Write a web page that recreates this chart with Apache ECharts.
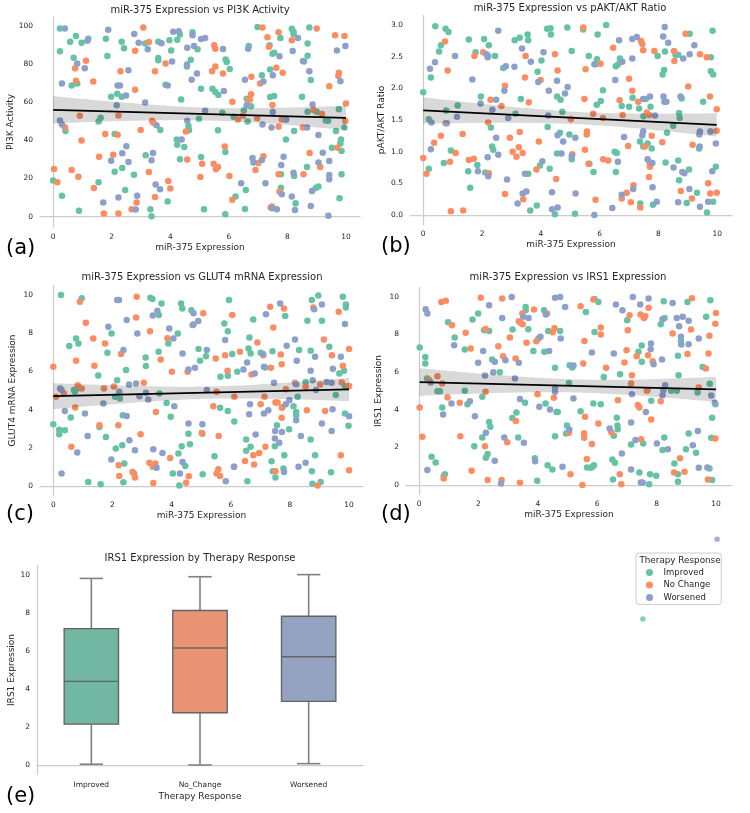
<!DOCTYPE html>
<html><head><meta charset="utf-8">
<script src="https://cdn.jsdelivr.net/npm/echarts@6/dist/echarts.min.js"></script>
<style>html,body{margin:0;padding:0;background:#fff}#c{width:750px;height:813px}</style>
</head><body><div id="c"></div>
<script>
const groups = ['Improved', 'No Change', 'Worsened'];
const boxCategories = ['Improved', 'No_Change', 'Worsened'];

// ---- Panel (a): miR-375 vs PI3K Activity ----
const pi3kImproved = [[0.0,19],[0.23,99],[0.23,87],[0.3,11],[0.42,45],[0.58,92],[0.63,69],[0.7,83.5],[0.78,95],[0.82,70],[0.88,3],[0.97,91.5],[1.2,93.5],[1.55,50],[1.55,18],[1.62,52],[1.8,93.5],[1.85,84.5],[1.98,63],[2.1,23.6],[2.1,43.5],[2.19,64.6],[2.34,63],[2.34,92],[2.36,25.6],[2.42,88.5],[2.46,14],[2.76,22],[3.14,91],[3.16,32.2],[3.32,3.9],[3.36,0.2],[3.59,92],[3.59,82.3],[3.59,83.4],[3.66,45.5],[3.84,69.4],[3.91,7.9],[3.97,92.8],[4.03,87.4],[4.22,40.6],[4.24,37.8],[4.24,93],[4.33,95.8],[4.33,30.1],[4.37,61.6],[4.48,36.6],[4.57,79],[4.62,47.6],[4.64,45.4],[4.7,82.5],[4.76,97],[4.93,88],[4.98,51.5],[5.05,67.2],[5.05,31.3],[5.15,3.9],[5.44,67.2],[5.54,65.5],[5.63,45.4],[5.64,64],[5.78,54.6],[5.88,34],[5.89,82.6],[5.93,81.3],[5.88,1.2],[6.03,77.6],[6.16,52.5],[6.23,10.5],[6.51,55.9],[6.55,4],[6.58,14],[6.61,62],[6.64,50],[6.68,89.7],[6.76,58],[6.98,99.8],[7.13,74.4],[7.41,62.9],[7.39,90.2],[7.41,77.4],[7.49,85.6],[7.55,63.4],[7.55,86.2],[7.76,94],[7.78,22.2],[7.78,15.2],[7.95,40.6],[7.94,51.1],[8.15,98.8],[8.21,97.2],[8.21,96.1],[8.23,21.4],[8.28,7],[8.23,45],[8.5,63],[8.57,81.6],[8.67,26.1],[8.69,55.2],[8.69,84.6],[8.69,91],[8.75,99.5],[8.8,71.8],[8.97,15],[9.0,55.2],[9.06,15.8],[9.31,50.6],[9.39,50.4],[9.52,36.2],[9.66,45],[9.76,56.4],[9.78,9.6],[9.81,38.5],[9.83,40.6],[9.85,34.5],[9.85,22.2],[9.95,46.8]];
const pi3kNoChange = [[0.03,25],[0.14,18],[0.4,47],[0.63,24.5],[0.75,78],[0.78,71.5],[0.86,21],[0.91,53],[0.97,40],[1.12,82],[1.37,71],[1.39,15],[1.57,31.5],[1.73,1.6],[1.78,43.5],[2.05,32.5],[2.2,43],[2.23,53.2],[2.23,1.6],[2.3,76.4],[2.68,3.9],[2.8,87.2],[2.8,66.7],[2.85,7.4],[2.99,45.5],[3.08,99.5],[3.27,91.8],[3.27,23.5],[3.38,50.4],[3.42,49.4],[3.48,10.3],[3.48,76.4],[3.84,80.5],[3.93,18.7],[4.0,14.7],[4.53,44.7],[4.58,30],[5.03,20.8],[5.09,27.8],[5.43,76.4],[5.48,27.8],[5.5,90.2],[5.54,88.3],[5.54,79],[5.56,24.9],[5.63,26.1],[5.8,75.3],[5.86,36.8],[6.02,21.4],[6.12,60.4],[6.12,8.9],[6.31,51.1],[6.48,53],[6.67,61.3],[6.72,61.6],[6.77,73.5],[6.76,64.4],[6.91,24.5],[6.97,51.7],[7.01,28.2],[7.07,70],[7.15,99.5],[7.18,31.7],[7.32,94.4],[7.37,89.3],[7.43,4.7],[7.47,5.3],[7.49,58.7],[7.62,78.3],[7.7,97],[7.7,47.3],[7.7,22.2],[7.73,13.1],[7.81,51.1],[7.84,75.7],[8.15,92.8],[8.53,46.9],[8.55,22.2],[8.76,33.5],[8.89,56],[9.0,99],[9.12,26.1],[9.18,54],[9.43,68.6],[9.63,95.4],[9.71,36.2],[9.74,73.9],[9.76,75.7],[9.95,95],[10.0,59.5],[9.98,50.3]];
const pi3kWorsened = [[0.23,50.6],[0.3,48.5],[0.3,70],[0.4,99],[0.82,80.5],[1.08,78],[1.17,92.5],[1.71,7.4],[1.88,98.3],[1.98,29.3],[2.17,58.5],[2.2,69],[2.23,10],[2.28,69],[2.36,33.3],[2.49,63.7],[2.5,37],[2.57,28.7],[2.57,77],[2.77,96],[2.82,3.7],[2.87,10.9],[2.92,91.4],[3.14,60],[3.23,88],[3.36,29.6],[3.41,33.4],[3.5,16.8],[3.53,48],[3.65,14.4],[3.7,91.2],[3.91,69],[4.06,81.6],[4.1,97.2],[4.29,97.5],[4.39,40.6],[4.57,80],[4.58,88.8],[4.58,50.4],[4.73,72],[4.76,95.4],[4.81,89.7],[4.91,75.3],[5.05,93.4],[5.19,94],[5.19,55.7],[5.8,88.2],[5.83,66],[6.42,17.5],[6.55,72],[6.61,58.5],[6.66,88.3],[6.81,30.8],[6.84,28.4],[7.13,29.8],[7.15,48.5],[7.18,71],[7.25,17.5],[7.46,46.8],[7.48,4.4],[7.5,74.4],[7.5,55],[7.64,3.9],[7.73,84.3],[7.79,27.1],[7.81,11.7],[7.87,31.5],[7.96,51.1],[8.15,10.5],[8.18,87.1],[8.21,23.1],[8.26,3.5],[8.36,94],[8.53,81.8],[8.67,46.8],[8.75,76.4],[8.8,5.6],[8.84,13.5],[8.86,59],[9.06,42.9],[9.06,28.4],[9.21,33.6],[9.4,0.4],[9.43,29.2],[9.43,21.9],[9.43,19.6],[9.69,87.4],[9.81,71.2],[9.98,89.7]];

// ---- Panel (b): miR-375 vs pAKT/AKT Ratio ----
const paktImproved = [[0.0,1.94],[0.19,1.51],[0.19,0.73],[0.26,2.17],[0.41,2.98],[0.54,2.58],[0.6,2.68],[0.7,0.82],[0.76,2.94],[0.78,1.65],[0.86,2.89],[0.94,1.02],[1.17,1.73],[1.55,2.77],[1.53,0.69],[1.6,0.43],[1.78,2.57],[1.84,0.79],[1.96,1.87],[2.07,2.78],[2.11,0.67],[2.21,2.51],[2.23,2.68],[2.3,1.38],[2.34,1.08],[2.38,1.03],[2.44,2.51],[2.72,2.32],[3.11,2.76],[3.14,1.6],[3.28,2.8],[3.32,1.83],[3.55,2.85],[3.57,2.76],[3.57,0.65],[3.64,0.07],[3.86,0.15],[3.89,2.26],[3.97,0.78],[4.02,2.44],[4.21,2.94],[4.23,1.39],[4.3,0.73],[4.33,2.95],[4.34,2.85],[4.48,0.01],[4.55,1.87],[4.55,0.97],[4.65,1.3],[4.67,1.82],[4.73,1.63],[4.9,2.96],[4.97,1.27],[5.05,2.59],[5.05,0.88],[5.16,0.02],[5.44,2.93],[5.63,2.51],[5.65,0.81],[5.79,0.68],[5.86,2.38],[5.91,2.46],[5.9,1.74],[5.93,2.85],[6.04,1.8],[6.11,1.97],[6.22,3.0],[6.51,1.0],[6.55,0.68],[6.58,0.98],[6.55,2.35],[6.63,2.38],[6.69,2.47],[6.75,1.72],[7.0,1.71],[7.12,1.85],[7.34,1.68],[7.37,1.16],[7.38,0.18],[7.48,1.08],[7.49,1.56],[7.57,1.83],[7.63,1.13],[7.73,1.71],[7.77,1.05],[7.81,0.16],[7.97,2.51],[8.14,2.22],[8.19,2.29],[8.22,2.58],[8.24,0.83],[8.29,1.3],[8.5,1.41],[8.58,2.53],[8.67,2.53],[8.67,0.86],[8.7,1.61],[8.7,0.55],[8.72,1.53],[8.79,1.84],[8.96,0.19],[9.06,2.86],[9.04,0.72],[9.31,0.35],[9.38,1.05],[9.52,1.79],[9.65,0.04],[9.78,2.49],[9.78,2.27],[9.77,1.32],[9.84,2.91],[9.86,2.22],[9.86,0.21],[9.95,0.76]];
const paktNoChange = [[0.0,0.9],[0.11,0.65],[0.37,1.14],[0.6,1.25],[0.74,2.74],[0.76,1.45],[0.83,2.28],[0.91,0.84],[0.94,0.06],[1.1,0.98],[1.34,1.28],[1.36,0.07],[1.55,0.87],[1.72,0.89],[1.74,2.51],[2.04,2.57],[2.21,1.46],[2.23,0.66],[2.29,1.82],[2.66,1.72],[2.78,0.33],[2.78,2.04],[2.95,1.22],[3.04,1.0],[3.17,0.92],[3.25,1.07],[3.28,1.31],[3.38,0.98],[3.4,0.25],[3.46,2.17],[3.48,2.51],[3.59,1.78],[3.85,0.72],[3.99,2.13],[3.93,1.16],[4.48,2.54],[4.52,0.57],[4.57,2.28],[5.02,1.51],[5.07,0.96],[5.44,2.96],[5.48,1.83],[5.5,1.03],[5.52,2.3],[5.56,1.27],[5.57,1.32],[5.62,0.81],[5.78,1.6],[5.86,0.24],[6.03,2.39],[6.11,1.53],[6.12,0.88],[6.29,0.86],[6.46,2.64],[6.68,1.81],[6.75,0.26],[6.78,1.58],[6.92,0.35],[6.97,1.09],[7.0,2.15],[7.06,0.2],[7.11,1.96],[7.15,0.47],[7.31,1.79],[7.38,0.12],[7.4,2.75],[7.45,2.7],[7.48,2.6],[7.54,1.08],[7.6,1.62],[7.7,0.83],[7.71,0.76],[7.68,0.6],[7.69,1.58],[7.77,1.25],[7.86,2.59],[8.13,1.15],[8.53,2.59],[8.54,2.43],[8.76,0.38],[8.92,2.86],[9.01,2.03],[9.14,0.26],[9.16,1.11],[9.41,2.54],[9.64,2.49],[9.69,0.5],[9.75,1.87],[9.76,0.34],[9.98,1.67],[9.98,1.33],[9.98,0.35]];
const paktWorsened = [[0.23,2.31],[0.26,1.04],[0.28,1.46],[0.4,2.41],[0.8,1.45],[1.08,2.51],[1.15,1.55],[1.67,2.14],[1.86,0.69],[1.95,1.76],[2.15,2.54],[2.19,2.49],[2.19,0.91],[2.21,0.61],[2.35,1.66],[2.48,1.82],[2.48,1.22],[2.55,2.91],[2.55,0.95],[2.76,1.96],[2.81,2.35],[2.85,0.56],[2.89,1.53],[3.1,2.34],[3.21,0.18],[3.36,2.63],[3.38,0.34],[3.46,0.65],[3.51,0.37],[3.66,2.42],[3.91,2.1],[4.05,0.85],[4.09,2.57],[4.25,1.57],[4.27,1.96],[4.38,0.36],[4.38,0.09],[4.55,2.12],[4.57,0.12],[4.57,1.26],[4.7,0.97],[4.76,1.16],[4.82,1.92],[4.91,2.02],[5.05,0.93],[5.17,1.22],[5.18,0.34],[5.82,0.0],[5.82,2.38],[6.43,0.11],[6.53,2.13],[6.62,0.84],[6.66,2.76],[6.75,0.32],[6.77,2.42],[6.83,1.23],[7.11,2.47],[7.11,2.78],[7.14,0.41],[7.26,2.81],[7.45,1.26],[7.48,1.32],[7.48,1.83],[7.63,0.88],[7.71,1.87],[7.79,0.82],[7.8,0.44],[7.94,0.21],[7.88,1.57],[8.16,2.82],[8.21,2.97],[8.17,1.87],[8.2,1.79],[8.27,1.79],[8.33,2.72],[8.51,0.75],[8.67,0.2],[8.75,1.87],[8.81,0.68],[8.84,2.47],[8.88,0.66],[9.05,0.41],[9.06,2.54],[9.22,2.68],[9.4,1.08],[9.39,1.27],[9.41,1.32],[9.41,0.13],[9.69,0.21],[9.77,1.32],[9.83,0.69],[9.95,1.13]];

// ---- Panel (c): miR-375 vs GLUT4 mRNA Expression ----
const glut4Improved = [[0.0,3.23],[0.2,2.95],[0.2,2.71],[0.26,10.0],[0.39,2.92],[0.54,7.33],[0.59,3.58],[0.7,5.02],[0.73,4.93],[0.77,7.73],[0.81,5.1],[0.85,7.46],[0.96,9.83],[1.18,0.21],[1.52,5.79],[1.56,3.09],[1.6,0.09],[1.78,2.57],[1.83,6.98],[1.97,7.99],[2.09,4.67],[2.11,1.96],[2.16,5.54],[2.25,4.58],[2.33,2.13],[2.35,3.71],[2.37,0.19],[2.4,1.17],[2.46,6.07],[2.73,0.65],[3.12,6.73],[3.13,6.28],[3.28,9.86],[3.35,9.79],[3.56,7.03],[3.57,8.95],[3.59,4.84],[3.66,9.56],[3.83,4.35],[3.89,7.46],[3.97,3.62],[4.04,0.65],[4.21,7.99],[4.23,1.7],[4.26,0.03],[4.32,9.56],[4.34,2.08],[4.36,9.3],[4.46,1.05],[4.57,2.74],[4.62,2.19],[4.67,9.21],[4.74,8.46],[4.91,7.17],[4.96,6.56],[5.04,2.74],[5.05,0.61],[5.16,6.8],[5.45,1.56],[5.64,4.09],[5.65,5.72],[5.78,8.51],[5.9,8.11],[5.9,5.77],[5.9,3.92],[5.94,9.74],[6.05,6.91],[6.12,3.37],[6.22,5.98],[6.52,2.43],[6.52,1.84],[6.56,0.24],[6.6,7.2],[6.63,7.78],[6.67,6.94],[6.67,2.05],[6.76,8.72],[7.01,6.98],[7.16,6.21],[7.41,7.06],[7.38,1.29],[7.42,0.77],[7.49,2.08],[7.51,0.44],[7.56,3.18],[7.78,0.91],[7.81,1.61],[7.84,8.9],[7.97,2.97],[8.12,4.18],[8.21,3.88],[8.21,3.71],[8.26,4.67],[8.31,7.12],[8.53,5.45],[8.59,8.65],[8.7,2.43],[8.7,7.08],[8.74,9.74],[8.74,0.77],[8.76,0.12],[8.85,1.61],[8.96,9.97],[9.04,0.21],[9.08,8.65],[9.33,7.29],[9.39,0.72],[9.55,4.76],[9.67,5.89],[9.79,9.91],[9.83,6.03],[9.89,9.51],[9.89,9.35],[9.86,5.23],[9.86,3.79],[9.98,3.16]];
const glut4NoChange = [[0.0,6.24],[0.09,4.67],[0.36,4.84],[0.61,2.05],[0.74,4.11],[0.77,6.56],[0.83,5.28],[0.9,9.65],[0.96,5.1],[1.1,8.55],[1.35,7.73],[1.39,6.29],[1.56,3.18],[1.71,5.1],[1.75,7.46],[2.05,5.21],[2.2,3.18],[2.21,1.08],[2.23,0.52],[2.29,6.91],[2.68,0.73],[2.76,0.44],[2.8,8.83],[2.82,9.91],[2.95,2.71],[3.06,5.4],[3.25,1.22],[3.27,8.11],[3.36,1.0],[3.38,0.16],[3.45,1.17],[3.47,3.88],[3.63,6.63],[3.86,7.74],[3.95,1.47],[4.01,5.98],[4.49,0.17],[4.54,5.98],[4.58,0.51],[5.02,2.78],[5.07,9.04],[5.41,4.18],[5.49,6.68],[5.52,4.93],[5.52,0.65],[5.58,0.87],[5.59,2.62],[5.64,0.52],[5.81,6.85],[5.89,6.03],[6.05,8.95],[6.11,1.0],[6.12,4.67],[6.31,7.03],[6.48,1.31],[6.7,5.84],[6.76,1.61],[6.79,1.12],[6.9,7.52],[6.96,1.73],[7.01,4.28],[7.1,6.85],[7.14,4.67],[7.17,2.05],[7.33,9.39],[7.36,6.19],[7.44,8.3],[7.51,4.37],[7.51,0.77],[7.58,4.37],[7.69,6.89],[7.72,6.38],[7.72,3.57],[7.73,4.09],[7.75,4.14],[7.8,9.3],[7.86,5.07],[8.17,5.4],[8.53,5.19],[8.57,3.97],[8.79,9.35],[8.94,0.03],[9.02,5.31],[9.15,7.67],[9.19,3.93],[9.42,6.85],[9.65,9.13],[9.72,1.61],[9.75,5.42],[9.79,6.29],[10.0,5.23],[10.0,7.17],[10.0,0.82]];
const glut4Worsened = [[0.23,5.1],[0.28,5.02],[0.28,0.65],[0.39,3.93],[0.81,1.75],[1.07,3.79],[1.16,2.62],[1.69,4.32],[1.86,8.34],[1.96,1.38],[2.16,9.74],[2.22,9.74],[2.23,4.93],[2.37,7.12],[2.48,3.67],[2.48,8.69],[2.56,5.31],[2.57,2.4],[2.76,1.87],[2.8,5.37],[2.84,7.99],[2.91,4.7],[3.13,4.88],[3.21,4.53],[3.36,8.93],[3.38,1.92],[3.49,0.96],[3.52,9.18],[3.69,1.73],[3.92,8.25],[4.06,7.73],[4.09,4.18],[4.28,0.65],[4.37,6.94],[4.37,1.26],[4.57,6.1],[4.57,3.27],[4.71,8.43],[4.74,9.04],[4.79,6.19],[4.9,8.64],[5.04,3.23],[5.19,7.12],[5.19,5.02],[5.81,7.64],[5.83,0.24],[6.11,1.01],[6.43,6.1],[6.55,6.47],[6.62,3.76],[6.65,4.28],[6.81,5.89],[6.84,2.69],[7.09,6.91],[7.12,3.79],[7.12,6.24],[7.19,8.99],[7.27,3.97],[7.46,5.4],[7.49,2.48],[7.5,2.88],[7.64,2.26],[7.67,9.56],[7.73,2.83],[7.8,0.73],[7.86,4.28],[7.89,7.34],[7.98,4.49],[8.17,7.67],[8.21,3.44],[8.21,5.33],[8.23,6.56],[8.29,1.0],[8.37,2.62],[8.53,1.21],[8.7,6.03],[8.77,5.54],[8.82,9.25],[8.85,6.77],[8.88,5.02],[9.08,3.27],[9.08,9.51],[9.24,5.45],[9.41,5.4],[9.41,2.88],[9.44,4.02],[9.45,6.14],[9.72,6.77],[9.86,8.48],[10.0,3.65]];

// ---- Panel (d): miR-375 vs IRS1 Expression ----
const irs1Improved = [[0.02,7.31],[0.21,6.81],[0.21,6.46],[0.27,5.66],[0.42,1.5],[0.56,1.2],[0.62,4.99],[0.7,4.99],[0.78,4.12],[0.87,0.58],[0.83,0.48],[0.98,8.65],[1.2,7.84],[1.54,5.01],[1.54,7.2],[1.63,4.3],[1.8,8.8],[1.86,2.07],[1.99,9.12],[2.13,4.69],[2.13,2.53],[2.19,8.23],[2.25,1.45],[2.31,1.65],[2.36,8.19],[2.36,3.35],[2.4,3.1],[2.46,6.67],[2.72,6.0],[3.14,3.56],[3.15,8.27],[3.28,3.86],[3.34,2.53],[3.57,4.37],[3.59,9.47],[3.59,9.29],[3.68,8.28],[3.85,7.13],[3.9,1.42],[3.98,0.23],[4.02,7.79],[4.21,9.29],[4.22,7.08],[4.26,4.34],[4.33,1.06],[4.35,8.19],[4.49,0.83],[4.58,6.23],[4.58,2.6],[4.63,3.89],[4.67,3.89],[4.75,8.19],[4.95,2.74],[4.98,3.17],[5.05,5.43],[5.07,6.37],[5.16,6.25],[5.44,3.93],[5.62,9.2],[5.66,0.94],[5.79,0.92],[5.84,0.97],[5.89,1.06],[5.91,9.89],[5.87,4.34],[5.91,8.14],[6.04,9.73],[6.12,4.3],[6.22,5.75],[6.51,1.36],[6.53,0.3],[6.56,2.62],[6.6,1.19],[6.66,3.58],[6.68,3.17],[6.69,2.97],[6.77,5.89],[7.01,8.76],[7.14,2.16],[7.39,7.08],[7.42,0.67],[7.5,7.42],[7.5,6.55],[7.55,2.21],[7.69,5.04],[7.75,0.05],[7.78,0.58],[7.82,4.48],[7.99,0.5],[8.14,8.55],[8.2,1.86],[8.24,9.77],[8.27,8.88],[8.26,2.53],[8.49,5.01],[8.6,1.15],[8.68,5.01],[8.72,6.87],[8.72,0.58],[8.74,5.84],[8.72,0.18],[8.82,7.66],[8.99,1.91],[9.04,9.73],[9.08,2.74],[9.33,1.72],[9.38,4.92],[9.55,6.28],[9.67,8.94],[9.78,0.88],[9.81,9.82],[9.79,5.38],[9.84,2.51],[9.87,3.58],[9.87,0.27],[9.98,4.3]];
const irs1NoChange = [[0.02,4.12],[0.11,2.57],[0.34,5.58],[0.62,5.79],[0.75,9.73],[0.78,5.4],[0.83,0.35],[0.9,9.79],[0.96,4.65],[1.11,8.5],[1.37,4.37],[1.39,2.6],[1.57,8.09],[1.74,7.26],[1.77,0.76],[2.08,9.96],[2.24,4.96],[2.24,8.3],[2.22,2.07],[2.31,0.27],[2.67,7.38],[2.78,0.27],[2.8,9.91],[2.83,6.85],[2.97,2.28],[3.06,7.84],[3.25,6.73],[3.26,3.4],[3.36,8.71],[3.4,0.12],[3.43,8.62],[3.48,9.12],[3.49,8.55],[3.62,7.56],[3.87,9.33],[3.95,7.65],[3.99,4.83],[4.31,9.12],[4.5,8.12],[4.56,8.34],[4.54,4.64],[5.05,2.78],[5.1,0.58],[5.44,9.5],[5.5,0.0],[5.53,6.46],[5.56,2.76],[5.56,2.51],[5.57,7.66],[5.59,3.63],[5.65,1.38],[5.82,2.18],[5.87,9.86],[6.04,3.27],[6.12,8.37],[6.12,8.0],[6.3,6.23],[6.48,2.8],[6.7,4.51],[6.76,0.57],[6.81,0.05],[6.92,6.51],[6.99,7.17],[7.03,8.23],[7.09,9.03],[7.17,5.84],[7.14,5.4],[7.33,6.85],[7.37,4.25],[7.42,4.12],[7.46,9.06],[7.48,2.44],[7.57,8.88],[7.62,8.97],[7.67,5.01],[7.71,6.9],[7.73,9.43],[7.82,3.49],[7.87,6.58],[8.14,4.46],[8.54,8.05],[8.59,0.67],[8.79,1.42],[8.94,0.71],[9.04,6.96],[9.16,8.27],[9.19,9.93],[9.42,5.19],[9.66,6.19],[9.73,0.3],[9.75,6.99],[9.78,7.93],[9.98,8.58],[10.0,9.15],[9.98,2.48]];
const irs1Worsened = [[0.22,9.35],[0.28,9.12],[0.28,0.8],[0.39,5.45],[0.81,3.75],[1.09,4.34],[1.18,7.43],[1.71,4.46],[1.88,3.66],[1.99,6.5],[2.16,7.13],[2.22,5.82],[2.25,2.78],[2.36,9.56],[2.5,6.0],[2.55,6.55],[2.55,1.29],[2.76,0.09],[2.8,8.88],[2.87,2.53],[2.91,6.64],[3.12,10.0],[3.23,5.66],[3.36,6.5],[3.4,4.57],[3.51,8.94],[3.53,2.25],[3.69,8.88],[3.91,1.27],[4.05,4.16],[4.09,7.88],[4.27,9.06],[4.38,7.13],[4.41,4.02],[4.58,5.19],[4.58,4.96],[4.58,9.95],[4.75,10.0],[4.77,7.79],[4.83,0.97],[4.92,9.47],[5.06,2.96],[5.2,6.35],[5.2,4.6],[5.82,7.04],[6.42,3.01],[6.56,6.99],[6.63,9.59],[6.83,1.68],[6.85,9.29],[7.14,3.33],[7.14,0.83],[7.17,4.83],[7.2,10.0],[7.29,2.39],[7.45,9.59],[7.47,0.14],[7.53,0.14],[7.64,3.89],[7.73,9.91],[7.8,7.22],[7.81,7.52],[7.9,6.42],[8.01,2.21],[8.18,6.67],[8.2,8.81],[8.2,4.78],[8.23,5.04],[8.29,5.31],[8.38,1.91],[8.54,9.68],[8.68,8.88],[8.76,8.44],[8.82,7.88],[8.83,7.47],[8.88,8.94],[9.08,8.73],[9.08,7.49],[9.22,2.12],[9.39,2.88],[9.42,7.79],[9.42,0.92],[9.71,0.94],[9.84,4.76],[9.96,4.37]];

// ---- Panel (e): IRS1 box statistics [low whisker, Q1, median, Q3, high whisker] ----
const irs1BoxStats = [[0.04, 2.15, 4.4, 7.18, 9.82], [0.0, 2.75, 6.16, 8.13, 9.91], [0.07, 3.35, 5.7, 7.83, 10.02]];

// ---- stray points drawn on the empty sixth axes (axis fraction units) ----
const strayImproved = [[0.694, 0.659]];
const strayNoChange = [[0.8, 0.797]];
const strayWorsened = [[0.906, 0.934]];

const colors = ['#66c2a5', '#fc8d62', '#8da0cb'];
const boxColors = ['#71b7a1', '#e99575', '#95a3c3'];
const FONT = 'DejaVu Sans';
const TXT = '#262626';

const panels = [
  {title: 'miR-375 Expression vs PI3K Activity', yName: 'PI3K Activity', sets: [pi3kImproved, pi3kNoChange, pi3kWorsened],
   grid: {left: 40, top: 17, width: 320, height: 210}, x: [-0.45, 10.48], y: [-5.5, 105], dec: 0, yGap: 24.5,
   titlePos: [200, 10], letter: '(a)', letterPos: [6, 249]},
  {title: 'miR-375 Expression vs pAKT/AKT Ratio', yName: 'pAKT/AKT Ratio', sets: [paktImproved, paktNoChange, paktWorsened],
   grid: {left: 410, top: 15.5, width: 322, height: 209}, x: [-0.45, 10.5], y: [-0.15, 3.15], dec: 1, yGap: 23.5,
   titlePos: [570, 8], letter: '(b)', letterPos: [381, 247]},
  {title: 'miR-375 Expression vs GLUT4 mRNA Expression', yName: 'GLUT4 mRNA Expression', sets: [glut4Improved, glut4NoChange, glut4Worsened],
   grid: {left: 40, top: 285.5, width: 323, height: 210}, x: [-0.45, 10.47], y: [-0.5, 10.5], dec: 0, yGap: 22.5,
   titlePos: [202, 277], letter: '(c)', letterPos: [6, 515]},
  {title: 'miR-375 Expression vs IRS1 Expression', yName: 'IRS1 Expression', sets: [irs1Improved, irs1NoChange, irs1Worsened],
   grid: {left: 406, top: 287.5, width: 326, height: 207}, x: [-0.44, 10.54], y: [-0.5, 10.5], dec: 0, yGap: 22.5,
   titlePos: [568, 277], letter: '(d)', letterPos: [381, 515]}
];

function regression(sets) {
  const pts = [].concat(...sets);
  const n = pts.length;
  let sx = 0, sy = 0;
  pts.forEach(p => { sx += p[0]; sy += p[1]; });
  const mx = sx / n, my = sy / n;
  let sxx = 0, sxy = 0;
  pts.forEach(p => { sxx += (p[0] - mx) ** 2; sxy += (p[0] - mx) * (p[1] - my); });
  const b = sxy / sxx, a = my - b * mx;
  let sse = 0;
  pts.forEach(p => { sse += (p[1] - a - b * p[0]) ** 2; });
  const s = Math.sqrt(sse / (n - 2));
  const xmin = Math.min(...pts.map(p => p[0])), xmax = Math.max(...pts.map(p => p[0]));
  const band = [];
  for (let i = 0; i <= 60; i++) {
    const x = xmin + (xmax - xmin) * i / 60;
    const yh = a + b * x;
    const se = s * Math.sqrt(1 / n + (x - mx) ** 2 / sxx);
    band.push([x, yh - 1.97 * se, yh + 1.97 * se]);
  }
  return {line: [[xmin, a + b * xmin], [xmax, a + b * xmax]], band};
}

const axisLineStyle = {lineStyle: {color: '#cccccc', width: 1.25}};
const grids = [], xAxes = [], yAxes = [], series = [], graphics = [];

panels.forEach((p, gi) => {
  grids.push(Object.assign({containLabel: false}, p.grid));
  xAxes.push({type: 'value', gridIndex: gi, min: p.x[0], max: p.x[1], splitNumber: 5,
    name: 'miR-375 Expression', nameLocation: 'middle', nameGap: 16,
    nameTextStyle: {fontSize: 9, color: TXT, fontFamily: FONT},
    axisLine: axisLineStyle, axisTick: {show: false}, splitLine: {show: false},
    axisLabel: {fontSize: 7.5, color: TXT, fontFamily: FONT, margin: 6, showMinLabel: false, showMaxLabel: false,
      formatter: v => String(Math.round(v))}});
  yAxes.push({type: 'value', gridIndex: gi, min: p.y[0], max: p.y[1], splitNumber: 5,
    name: p.yName, nameLocation: 'middle', nameGap: p.yGap,
    nameTextStyle: {fontSize: 9, color: TXT, fontFamily: FONT},
    axisLine: Object.assign({show: true}, axisLineStyle), axisTick: {show: false}, splitLine: {show: false},
    axisLabel: {fontSize: 7.5, color: TXT, fontFamily: FONT, margin: 7, showMinLabel: false, showMaxLabel: false,
      formatter: v => p.dec ? v.toFixed(p.dec) : String(Math.round(v))}});
  p.sets.forEach((d, k) => {
    series.push({type: 'scatter', name: groups[k], xAxisIndex: gi, yAxisIndex: gi, data: d,
      symbolSize: 6.5, z: 2, itemStyle: {color: colors[k], opacity: 1}, emphasis: {disabled: true}});
  });
  const reg = regression(p.sets);
  series.push({type: 'custom', xAxisIndex: gi, yAxisIndex: gi, z: 3, silent: true, clip: true,
    data: [[reg.band[0][0], reg.band[0][1]]],
    renderItem: (params, api) => {
      const pts = reg.band.map(b => api.coord([b[0], b[2]]));
      for (let i = reg.band.length - 1; i >= 0; i--) pts.push(api.coord([reg.band[i][0], reg.band[i][1]]));
      return {type: 'polygon', shape: {points: pts}, style: {fill: 'rgba(0,0,0,0.15)'}};
    }});
  series.push({type: 'line', xAxisIndex: gi, yAxisIndex: gi, z: 4, data: reg.line, symbol: 'none', silent: true,
    lineStyle: {color: '#000', width: 1.7}});
  graphics.push({type: 'text', x: p.titlePos[0], y: p.titlePos[1], z: 100,
    style: {text: p.title, fontSize: 10, fontFamily: FONT, fill: TXT, align: 'center', verticalAlign: 'middle'}});
  graphics.push({type: 'text', x: p.letterPos[0], y: p.letterPos[1], z: 100,
    style: {text: p.letter, fontSize: 21, fontFamily: FONT, fill: '#000', align: 'left', verticalAlign: 'middle'}});
});

// ---- panel (e) box plot ----
const ge = panels.length;
grids.push({left: 37, top: 565.5, width: 326, height: 209});
xAxes.push({type: 'category', gridIndex: ge, data: boxCategories, name: 'Therapy Response', nameLocation: 'middle', nameGap: 18,
  nameTextStyle: {fontSize: 9, color: TXT, fontFamily: FONT},
  axisLine: axisLineStyle, axisTick: {show: false}, splitLine: {show: false},
  axisLabel: {fontSize: 7.5, color: TXT, fontFamily: FONT, margin: 7}});
yAxes.push({type: 'value', gridIndex: ge, min: -0.5, max: 10.5, splitNumber: 5,
  name: 'IRS1 Expression', nameLocation: 'middle', nameGap: 20.5,
  nameTextStyle: {fontSize: 9, color: TXT, fontFamily: FONT},
  axisLine: Object.assign({show: true}, axisLineStyle), axisTick: {show: false}, splitLine: {show: false},
  axisLabel: {fontSize: 7.5, color: TXT, fontFamily: FONT, margin: 7, showMinLabel: false, showMaxLabel: false,
    formatter: v => String(Math.round(v))}});
series.push({type: 'custom', xAxisIndex: ge, yAxisIndex: ge, z: 3, silent: true,
  data: irs1BoxStats.map((s, i) => [i].concat(s)),
  encode: {x: 0, y: [1, 2, 3, 4, 5]},
  renderItem: (params, api) => {
    const i = api.value(0);
    const cx = api.coord([i, api.value(3)])[0];
    const yLo = api.coord([i, api.value(1)])[1], yQ1 = api.coord([i, api.value(2)])[1];
    const yMed = api.coord([i, api.value(3)])[1], yQ3 = api.coord([i, api.value(4)])[1];
    const yHi = api.coord([i, api.value(5)])[1];
    const bw = api.size([1, 0])[0] * 0.5, cw = bw * 0.43;
    const wl = {stroke: '#808080', lineWidth: 1.6};
    const el = {stroke: '#646464', lineWidth: 1.4};
    return {type: 'group', children: [
      {type: 'line', shape: {x1: cx, y1: yQ1, x2: cx, y2: yLo}, style: wl},
      {type: 'line', shape: {x1: cx, y1: yQ3, x2: cx, y2: yHi}, style: wl},
      {type: 'line', shape: {x1: cx - cw / 2, y1: yLo, x2: cx + cw / 2, y2: yLo}, style: wl},
      {type: 'line', shape: {x1: cx - cw / 2, y1: yHi, x2: cx + cw / 2, y2: yHi}, style: wl},
      {type: 'rect', shape: {x: cx - bw / 2, y: yQ3, width: bw, height: yQ1 - yQ3}, style: {fill: boxColors[i], stroke: '#646464', lineWidth: 1.4}},
      {type: 'line', shape: {x1: cx - bw / 2, y1: yMed, x2: cx + bw / 2, y2: yMed}, style: el}
    ]};
  }});
graphics.push({type: 'text', x: 200, y: 558, z: 100,
  style: {text: 'IRS1 Expression by Therapy Response', fontSize: 10, fontFamily: FONT, fill: TXT, align: 'center', verticalAlign: 'middle'}});
graphics.push({type: 'text', x: 6, y: 797, z: 100,
  style: {text: '(e)', fontSize: 21, fontFamily: FONT, fill: '#000', align: 'left', verticalAlign: 'middle'}});

// ---- hidden sixth axes with stray points ----
const gs = ge + 1;
grids.push({left: 400, top: 520, width: 350, height: 290});
xAxes.push({type: 'value', gridIndex: gs, min: 0, max: 1, show: false});
yAxes.push({type: 'value', gridIndex: gs, min: 0, max: 1, show: false});
[strayImproved, strayNoChange, strayWorsened].forEach((d, k) => {
  series.push({type: 'scatter', name: groups[k], xAxisIndex: gs, yAxisIndex: gs, data: d, symbolSize: 5.5, z: 2,
    itemStyle: {color: colors[k]}, emphasis: {disabled: true}});
});

graphics.push({type: 'text', x: 680, y: 561, z: 100,
  style: {text: 'Therapy Response', fontSize: 8.8, fontFamily: FONT, fill: TXT, align: 'center', verticalAlign: 'middle'}});

const chart = echarts.init(document.getElementById('c'), null, {renderer: 'canvas'});
chart.setOption({
  animation: false,
  backgroundColor: '#ffffff',
  textStyle: {fontFamily: FONT},
  grid: grids, xAxis: xAxes, yAxis: yAxes, series: series,
  legend: {data: groups, orient: 'vertical', left: 636, top: 553, padding: [14.5, 11, 2, 10],
    itemWidth: 18, itemHeight: 7, itemGap: 2.5, icon: 'circle', selectedMode: false,
    textStyle: {fontSize: 8.5, color: TXT, fontFamily: FONT, lineHeight: 10},
    backgroundColor: 'rgba(255,255,255,0.8)', borderColor: '#cccccc', borderWidth: 1, borderRadius: 3, z: 10},
  graphic: {elements: graphics}
});
</script>
</body></html>
